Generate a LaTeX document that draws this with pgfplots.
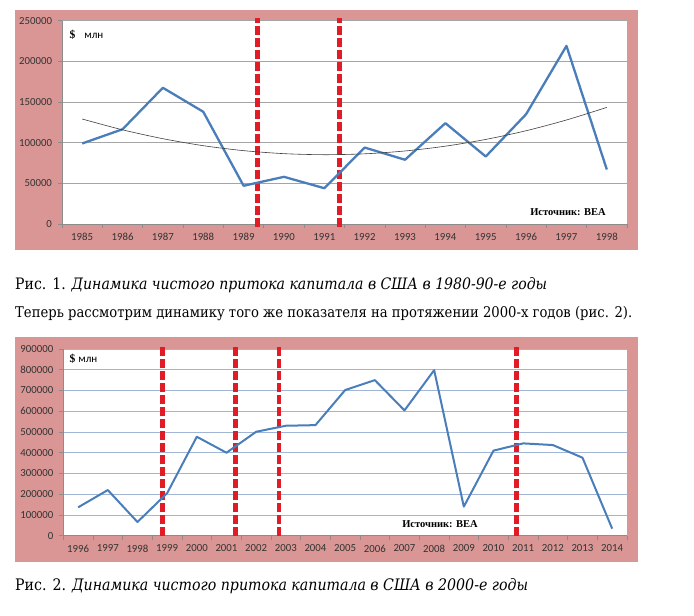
\documentclass[border=0pt]{standalone}
\usepackage{fontspec}
\usepackage{pgfplots}
\pgfplotsset{compat=1.18}
\setmainfont{DejaVu Serif}
\newfontfamily\calib{Carlito}
\newfontfamily\timesf{Liberation Serif}
\definecolor{pinkc}{RGB}{217,150,148}
\definecolor{xlblue}{RGB}{74,126,187}
\definecolor{xlred}{RGB}{226,28,38}
\definecolor{gridgray}{RGB}{165,165,165}
\definecolor{gridblue}{RGB}{160,182,212}
\definecolor{axgray}{RGB}{140,140,140}
\pgfplotsset{
  excel/.style={
    scale only axis, anchor=south west, clip=false,
    axis lines*=left,
    axis line style={draw=axgray, line width=0.6pt},
    axis background/.style={fill=white},
    tick align=outside,
    major tick length=0pt, minor tick length=4pt,
    every tick/.style={draw=axgray, line width=0.6pt},
    ymajorgrids,
    scaled y ticks=false,
    tick label style={font=\calib\fontsize{10.8}{12}\selectfont, text=black!80},
    /pgf/number format/assume math mode=true,
    /pgf/number format/fixed,
    /pgf/number format/1000 sep={},
    xticklabel style={yshift=-5.5pt},
    yticklabel style={xshift=-6.5pt},
  },
  redline/.style={xlred, line width=5pt, dash pattern=on 9pt off 3pt, forget plot},
}
\begin{document}
\begin{tikzpicture}
\path[fill=white] (0pt,0pt) rectangle (694pt,616pt);
\fill[pinkc] (15pt,366pt) rectangle (638pt,606pt);
\fill[pinkc] (15pt,54pt) rectangle (638pt,279pt);

% ---------- Chart 1 ----------
\begin{axis}[excel,
  at={(62pt,392pt)}, width=565pt, height=203.3pt,
  xmin=1984.5, xmax=1998.5, ymin=0, ymax=250000,
  xtick={1985,...,1998},
  minor xtick={1984.5,1985.5,...,1998.5},
  ytick={0,50000,...,250000},
  minor ytick={0,50000,...,250000},
  major grid style={draw=gridgray, line width=0.6pt},
]
\addplot[redline] coordinates {(1989.35,-4300) (1989.35,253300)};
\addplot[redline] coordinates {(1991.37,-4300) (1991.37,253300)};
\addplot[xlblue, line width=2.3pt, line join=round] coordinates {
 (1985,99000) (1986,116500) (1987,167500) (1988,138000) (1989,47000)
 (1990,58000) (1991,44000) (1992,94000) (1993,79000) (1994,124000)
 (1995,83000) (1996,135000) (1997,219000) (1998,67000)};
\addplot[black!75, line width=0.6pt, smooth] coordinates {
 (1985,129100) (1986,115800) (1987,104900) (1988,96300) (1989,90200)
 (1990,86500) (1991,85200) (1992,86300) (1993,89800) (1994,95700)
 (1995,104000) (1996,114700) (1997,127900) (1998,143400)};
\end{axis}
\node[anchor=west, inner sep=0pt] at (69.5pt,581pt) {\timesf\bfseries\fontsize{11.5}{12}\selectfont \$\hspace{9pt}{\calib\mdseries\fontsize{11}{12}\selectfont млн}};
\node[inner sep=0pt] at (568pt,404.3pt) {\timesf\bfseries\fontsize{10.5}{12}\selectfont Источник: BEA};

% ---------- Texts ----------
\node[anchor=west, inner sep=0pt] at (15pt,331pt) {\resizebox{532pt}{!}{\scalebox{1}[1.12]{Рис. 1. \textit{Динамика чистого притока капитала в США в 1980-90-е годы}}}};
\node[anchor=west, inner sep=0pt] at (15pt,302pt) {\resizebox{617pt}{!}{\scalebox{1}[1.12]{Теперь рассмотрим динамику того же показателя на протяжении 2000-х годов (рис. 2).}}};
\node[anchor=west, inner sep=0pt] at (15pt,30pt) {\resizebox{513pt}{!}{\scalebox{1}[1.12]{Рис. 2. \textit{Динамика чистого притока капитала в США в 2000-е годы}}}};

% ---------- Chart 2 ----------
\begin{axis}[excel,
  at={(63.3pt,80.3pt)}, width=563.7pt, height=186.7pt,
  xmin=1995.5, xmax=2014.5, ymin=0, ymax=900000,
  xtick={1996,...,2014},
  minor xtick={1995.5,1996.5,...,2014.5},
  ytick={0,100000,...,900000},
  minor ytick={0,100000,...,900000},
  major grid style={draw=gridblue, line width=0.7pt},
]
\addplot[redline] coordinates {(1998.84,-3000) (1998.84,912000)};
\addplot[redline] coordinates {(2001.29,-3000) (2001.29,912000)};
\addplot[redline, line width=3.8pt] coordinates {(2002.78,-3000) (2002.78,912000)};
\addplot[redline] coordinates {(2010.78,-3000) (2010.78,912000)};
\addplot[xlblue, line width=2pt, line join=round] coordinates {
 (1996,136700) (1997,220000) (1998,66000) (1999,205000) (2000,477000)
 (2001,400000) (2002,501000) (2003,530000) (2004,533000) (2005,702000)
 (2006,750000) (2007,604000) (2008,798000) (2009,140000) (2010,410000)
 (2011,445000) (2012,437000) (2013,376000) (2014,34000)};
\end{axis}
\node[anchor=west, inner sep=0pt] at (69.5pt,257.7pt) {\timesf\bfseries\fontsize{11.5}{12}\selectfont \$\hspace{3pt}{\calib\mdseries\fontsize{11}{12}\selectfont млн}};
\node[inner sep=0pt] at (440pt,91.7pt) {\timesf\bfseries\fontsize{10.5}{12}\selectfont Источник: BEA};
\end{tikzpicture}
\end{document}
